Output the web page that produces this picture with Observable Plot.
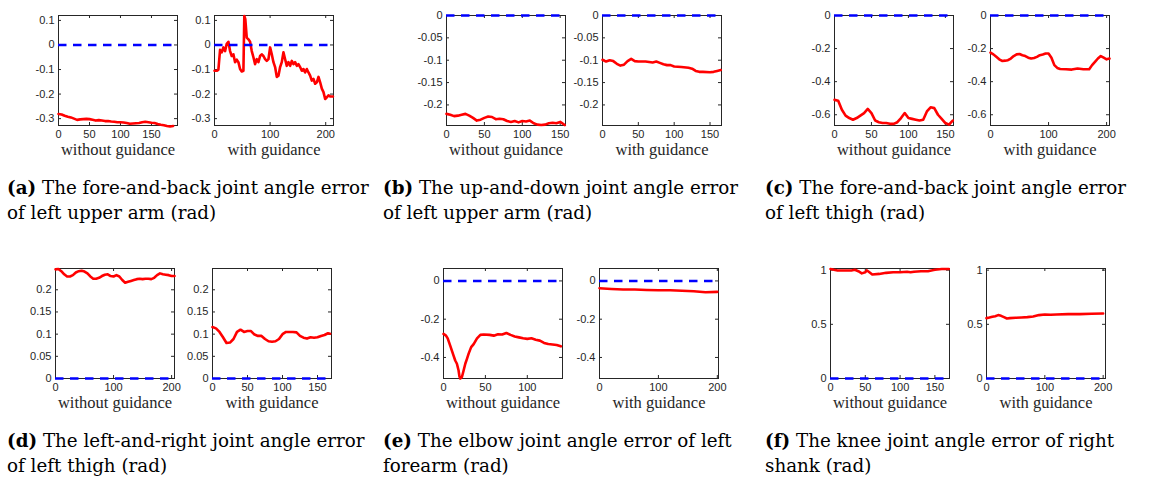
<!DOCTYPE html>
<html><head><meta charset="utf-8">
<script src="https://cdn.jsdelivr.net/npm/d3@7"></script>
<script src="https://cdn.jsdelivr.net/npm/@observablehq/plot@0.6"></script>
<style>
body{margin:0;background:#fff;}
#wrap{position:relative;width:1156px;height:478px;overflow:hidden;background:#fff;}
.cap{position:absolute;font-family:"DejaVu Serif";font-size:18.3px;line-height:25px;color:#000;white-space:nowrap;}
.cap b{font-weight:bold;}
</style></head><body><div id="wrap"></div><script>
// ---- data: [frame index, joint angle error (rad)] ----
const aWithout = [[0,-0.281],[5,-0.283],[10,-0.288],[15,-0.292],[20,-0.295],[25,-0.300],[30,-0.305],[35,-0.303],[40,-0.302],[45,-0.301],[50,-0.302],[55,-0.305],[60,-0.308],[65,-0.306],[70,-0.308],[75,-0.310],[80,-0.310],[85,-0.312],[90,-0.313],[95,-0.315],[100,-0.315],[105,-0.316],[110,-0.318],[115,-0.321],[120,-0.320],[125,-0.319],[130,-0.318],[135,-0.315],[140,-0.313],[145,-0.315],[150,-0.317],[155,-0.318],[160,-0.322],[165,-0.325],[170,-0.327],[175,-0.330],[180,-0.332],[185,-0.330]];
const aWith = [[0,-0.105],[5,-0.105],[7,-0.1],[10,-0.02],[13,-0.03],[16,-0.01],[19,-0.025],[22,0.005],[25,0.013],[28,-0.025],[31,-0.045],[34,-0.038],[37,-0.07],[40,-0.06],[43,-0.07],[46,-0.098],[49,-0.108],[52,-0.105],[53.6,0.118],[55.4,0.105],[58,0.03],[61,0.023],[64,0.013],[67,-0.025],[70,-0.05],[73,-0.078],[76,-0.058],[79,-0.07],[82,-0.045],[85,-0.038],[88,-0.045],[91,-0.058],[94,-0.065],[97,-0.058],[100,-0.01],[103,-0.038],[106,-0.07],[109,-0.09],[112,-0.13],[115,-0.125],[118,-0.09],[121,-0.07],[124,-0.03],[127,-0.058],[130,-0.085],[133,-0.07],[136,-0.085],[139,-0.065],[142,-0.078],[145,-0.07],[148,-0.085],[151,-0.078],[154,-0.09],[157,-0.105],[160,-0.098],[163,-0.112],[166,-0.098],[169,-0.112],[172,-0.125],[175,-0.145],[178,-0.138],[181,-0.158],[184,-0.152],[187,-0.13],[190,-0.152],[193,-0.178],[196,-0.192],[199,-0.22],[202,-0.213],[205,-0.205],[208,-0.21],[213,-0.21]];
const bWithout = [[0,-0.220],[5,-0.222],[10,-0.225],[15,-0.224],[20,-0.222],[25,-0.220],[30,-0.224],[35,-0.229],[40,-0.235],[45,-0.233],[50,-0.229],[55,-0.226],[60,-0.227],[65,-0.232],[70,-0.231],[75,-0.232],[80,-0.236],[85,-0.238],[90,-0.236],[95,-0.239],[100,-0.236],[105,-0.237],[110,-0.235],[115,-0.241],[120,-0.244],[125,-0.245],[130,-0.244],[135,-0.241],[140,-0.240],[145,-0.241],[150,-0.238],[156,-0.245]];
const bWith = [[0,-0.099],[5,-0.103],[10,-0.100],[15,-0.102],[20,-0.108],[25,-0.112],[30,-0.110],[35,-0.102],[40,-0.097],[45,-0.102],[50,-0.103],[60,-0.103],[70,-0.105],[75,-0.103],[80,-0.106],[85,-0.109],[90,-0.111],[95,-0.111],[100,-0.114],[110,-0.115],[120,-0.117],[125,-0.119],[130,-0.124],[135,-0.126],[140,-0.126],[150,-0.127],[155,-0.126],[160,-0.124],[165,-0.122]];
const cWithout = [[0,-0.51],[5,-0.515],[10,-0.57],[15,-0.605],[20,-0.62],[25,-0.63],[30,-0.62],[35,-0.605],[40,-0.59],[45,-0.565],[50,-0.59],[55,-0.635],[60,-0.645],[65,-0.65],[70,-0.65],[75,-0.655],[80,-0.655],[85,-0.645],[90,-0.62],[95,-0.59],[100,-0.62],[105,-0.625],[110,-0.63],[115,-0.635],[120,-0.63],[125,-0.58],[130,-0.555],[135,-0.56],[140,-0.60],[145,-0.625],[150,-0.65],[155,-0.66],[158,-0.645],[160,-0.635]];
const cWith = [[0,-0.225],[5,-0.235],[10,-0.25],[15,-0.265],[20,-0.275],[25,-0.273],[30,-0.27],[35,-0.26],[40,-0.245],[45,-0.235],[50,-0.233],[55,-0.24],[60,-0.245],[65,-0.255],[70,-0.26],[75,-0.257],[80,-0.25],[85,-0.24],[90,-0.236],[95,-0.23],[100,-0.23],[105,-0.255],[110,-0.30],[115,-0.317],[120,-0.323],[130,-0.325],[140,-0.327],[150,-0.32],[160,-0.325],[170,-0.325],[175,-0.30],[180,-0.28],[185,-0.26],[190,-0.245],[195,-0.255],[200,-0.265],[205,-0.26]];
const dWithout = [[0,0.246],[5,0.247],[10,0.242],[15,0.235],[20,0.230],[25,0.230],[30,0.233],[35,0.239],[40,0.242],[45,0.243],[50,0.241],[55,0.237],[60,0.230],[65,0.225],[70,0.225],[75,0.227],[80,0.231],[85,0.234],[90,0.235],[95,0.231],[100,0.230],[105,0.233],[110,0.230],[115,0.222],[120,0.216],[125,0.218],[130,0.220],[135,0.222],[140,0.224],[145,0.225],[150,0.224],[155,0.225],[160,0.225],[165,0.224],[170,0.227],[175,0.233],[180,0.237],[185,0.235],[190,0.234],[195,0.233],[200,0.231],[205,0.231]];
const dWith = [[0,0.116],[5,0.113],[10,0.105],[15,0.093],[20,0.080],[25,0.081],[30,0.089],[35,0.105],[40,0.110],[45,0.105],[50,0.107],[55,0.107],[60,0.099],[65,0.096],[70,0.096],[75,0.089],[80,0.084],[85,0.083],[90,0.084],[95,0.089],[100,0.100],[105,0.105],[110,0.105],[115,0.105],[120,0.104],[125,0.096],[130,0.092],[135,0.090],[140,0.093],[145,0.092],[150,0.093],[155,0.096],[160,0.098],[165,0.102],[168,0.101]];
const eWithout = [[0,-0.277],[3,-0.286],[5,-0.30],[8,-0.338],[10,-0.364],[12,-0.39],[14,-0.416],[16,-0.433],[18,-0.468],[19,-0.498],[20,-0.51],[22,-0.502],[24,-0.468],[26,-0.433],[28,-0.407],[30,-0.38],[33,-0.346],[36,-0.33],[40,-0.30],[44,-0.282],[48,-0.28],[55,-0.282],[60,-0.286],[65,-0.279],[70,-0.28],[75,-0.272],[80,-0.282],[85,-0.29],[90,-0.295],[95,-0.30],[100,-0.303],[105,-0.30],[110,-0.307],[115,-0.312],[120,-0.324],[125,-0.33],[130,-0.332],[135,-0.335],[140,-0.342]];
const eWith = [[0,-0.038],[20,-0.042],[40,-0.045],[60,-0.045],[80,-0.047],[100,-0.049],[120,-0.049],[140,-0.051],[160,-0.054],[180,-0.059],[200,-0.057]];
const fWithout = [[0,1.01],[5,1.003],[10,0.997],[20,0.997],[30,0.997],[35,1.003],[40,0.99],[45,0.97],[50,0.98],[52,0.997],[55,0.985],[60,0.96],[70,0.965],[80,0.975],[90,0.98],[100,0.98],[110,0.985],[115,0.98],[120,0.985],[130,0.99],[140,0.99],[150,1.003],[160,1.01],[170,1.01]];
const fWith = [[0,0.557],[5,0.563],[10,0.57],[15,0.575],[20,0.585],[25,0.578],[30,0.566],[35,0.554],[40,0.557],[50,0.56],[60,0.563],[70,0.566],[80,0.572],[90,0.585],[100,0.591],[110,0.588],[120,0.591],[140,0.594],[160,0.594],[180,0.597],[200,0.60]];

// ---- tick labels ----
const yTicksA = [-0.3,-0.2,-0.1,0,0.1];
const yTicksB = [-0.2,-0.15,-0.1,-0.05,0];
const yTicksC = [-0.6,-0.4,-0.2,0];
const yTicksD = [0,0.05,0.1,0.15,0.2];
const yTicksE = [-0.4,-0.2,0];
const yTicksF = [0,0.5,1];
const xTicks50 = [0,50,100,150];
const xTicks100 = [0,100,200];

const labels = ["without guidance","with guidance"];
const captions = [
  ["(a)", " The fore-and-back joint angle error", "of left upper arm (rad)"],
  ["(b)", " The up-and-down joint angle error", "of left upper arm (rad)"],
  ["(c)", " The fore-and-back joint angle error", "of left thigh (rad)"],
  ["(d)", " The left-and-right joint angle error", "of left thigh (rad)"],
  ["(e)", " The elbow joint angle error of left", "forearm (rad)"],
  ["(f)", " The knee joint angle error of right", "shank (rad)"]
];

const panels = [
  {data:aWithout, xd:[0,192], yd:[-0.328,0.12], xt:xTicks50, yt:yTicksA, lab:0, left:57.5, top:15},
  {data:aWith, xd:[0,214], yd:[-0.328,0.12], xt:xTicks100, yt:yTicksA, lab:1, left:213.5, top:15},
  {data:bWithout, xd:[0,157], yd:[-0.246,0], xt:xTicks50, yt:yTicksB, lab:0, left:446, top:15},
  {data:bWith, xd:[0,166], yd:[-0.246,0], xt:xTicks50, yt:yTicksB, lab:1, left:602, top:15},
  {data:cWithout, xd:[0,161], yd:[-0.665,0], xt:xTicks50, yt:yTicksC, lab:0, left:834, top:15},
  {data:cWith, xd:[0,205], yd:[-0.665,0], xt:xTicks100, yt:yTicksC, lab:1, left:990, top:15},
  {data:dWithout, xd:[0,205], yd:[0,0.248], xt:xTicks100, yt:yTicksD, lab:0, left:55, top:268},
  {data:dWith, xd:[0,170], yd:[0,0.248], xt:xTicks50, yt:yTicksD, lab:1, left:212, top:268},
  {data:eWithout, xd:[0,142], yd:[-0.51,0.065], xt:[0,50,100], yt:yTicksE, lab:0, left:443, top:268},
  {data:eWith, xd:[0,202], yd:[-0.51,0.065], xt:xTicks100, yt:yTicksE, lab:1, left:599, top:268},
  {data:fWithout, xd:[0,171], yd:[0,1.015], xt:xTicks50, yt:yTicksF, lab:0, left:830, top:268},
  {data:fWith, xd:[0,204], yd:[0,1.015], xt:xTicks100, yt:yTicksF, lab:1, left:986, top:268}
];

const W = 119, H = 110, ML = 45, MR = 16, MT = 8, MB = 45;
const ink = "#262626";
const wrap = document.getElementById("wrap");

for (const p of panels) {
  const xmax = d3.max(p.data, d => d[0]);
  const svg = Plot.plot({
    width: ML + W + MR, height: MT + H + MB,
    marginLeft: ML, marginRight: MR, marginTop: MT, marginBottom: MB,
    x: {domain: p.xd}, y: {domain: p.yd},
    style: {fontFamily: "Liberation Sans, Arial, sans-serif", fontSize: "11px", color: ink, background: "transparent", overflow: "visible"},
    marks: [
      Plot.axisX(p.xt, {tickSize: 0, tickPadding: 5, tickFormat: d => String(d), label: null, fill: ink}),
      Plot.axisY(p.yt, {tickSize: 0, tickPadding: 4, tickFormat: d => String(d), label: null, fill: ink}),
      Plot.tickX(p.xt, {x: d => d, insetTop: H - 3, stroke: ink}),
      Plot.tickX(p.xt, {x: d => d, insetBottom: H - 3, stroke: ink}),
      Plot.tickY(p.yt, {y: d => d, insetRight: W - 3, stroke: ink}),
      Plot.tickY(p.yt, {y: d => d, insetLeft: W - 3, stroke: ink}),
      Plot.frame({stroke: ink, strokeWidth: 1}),
      Plot.line(p.data, {x: d => d[0], y: d => d[1], stroke: "#ff0000", strokeWidth: 2.6, curve: "linear"}),
      Plot.ruleY([0], {y: d => d, x1: 0, x2: xmax, stroke: "#0000ff", strokeWidth: 2.6, strokeDasharray: "8.5,6.5"}),
      Plot.text([labels[p.lab]], {text: d => d, frameAnchor: "bottom", dy: 29, fontFamily: "Liberation Serif, serif", fontSize: 16.5, fill: ink})
    ]
  });
  svg.style.position = "absolute";
  svg.style.left = (p.left - ML) + "px";
  svg.style.top = (p.top - MT) + "px";
  wrap.appendChild(svg);
}

const capPos = [[7,175],[383,175],[765,175],[7,428],[383,428],[765,428]];
captions.forEach((c, i) => {
  const div = document.createElement("div");
  div.className = "cap";
  div.style.left = capPos[i][0] + "px";
  div.style.top = capPos[i][1] + "px";
  const b = document.createElement("b"); b.textContent = c[0];
  div.appendChild(b);
  div.appendChild(document.createTextNode(c[1]));
  div.appendChild(document.createElement("br"));
  div.appendChild(document.createTextNode(c[2]));
  wrap.appendChild(div);
});
</script></body></html>
